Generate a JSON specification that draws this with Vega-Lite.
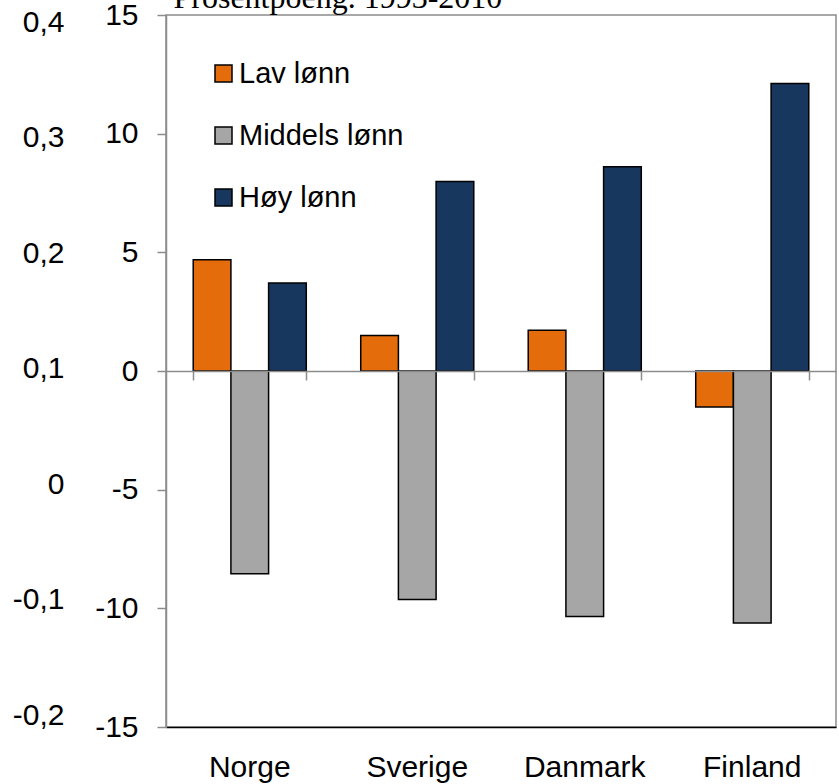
{
  "$schema": "https://vega.github.io/schema/vega-lite/v6.json",
  "autosize": {"type": "none"},
  "padding": {"left": 166, "top": 15, "right": 3, "bottom": 57},
  "width": 670,
  "height": 712,
  "background": "white",
  "config": {
    "font": "Liberation Sans",
    "view": {"stroke": "#8c8c8c", "strokeWidth": 1.5},
    "axis": {"grid": false}
  },
  "data": {
    "values": [
      {"country": "Norge", "group": "Lav lønn", "value": 4.69},
      {"country": "Norge", "group": "Middels lønn", "value": -8.54},
      {"country": "Norge", "group": "Høy lønn", "value": 3.71},
      {"country": "Sverige", "group": "Lav lønn", "value": 1.5},
      {"country": "Sverige", "group": "Middels lønn", "value": -9.63},
      {"country": "Sverige", "group": "Høy lønn", "value": 7.98},
      {"country": "Danmark", "group": "Lav lønn", "value": 1.72},
      {"country": "Danmark", "group": "Middels lønn", "value": -10.34},
      {"country": "Danmark", "group": "Høy lønn", "value": 8.61},
      {"country": "Finland", "group": "Lav lønn", "value": -1.52},
      {"country": "Finland", "group": "Middels lønn", "value": -10.62},
      {"country": "Finland", "group": "Høy lønn", "value": 12.11}
    ]
  },
  "resolve": {"scale": {"y": "independent"}, "axis": {"x": "independent", "y": "independent"}},
  "layer": [
    {
      "mark": {"type": "bar", "stroke": "black", "strokeWidth": 1.5},
      "encoding": {
        "x": {
          "field": "country",
          "type": "nominal",
          "sort": ["Norge", "Sverige", "Danmark", "Finland"],
          "scale": {"paddingInner": 0.325, "paddingOuter": 0.1625},
          "axis": {
            "title": null,
            "orient": "bottom",
            "domain": true,
            "domainColor": "black",
            "domainWidth": 1.5,
            "ticks": false,
            "labelAngle": 0,
            "labelFontSize": 30,
            "labelColor": "black",
            "labelPadding": 25
          }
        },
        "xOffset": {
          "field": "group",
          "type": "nominal",
          "sort": ["Lav lønn", "Middels lønn", "Høy lønn"],
          "scale": {"paddingInner": 0, "paddingOuter": 0}
        },
        "y": {
          "field": "value",
          "type": "quantitative",
          "scale": {"domain": [-15, 15], "nice": false},
          "axis": {
            "title": null,
            "orient": "left",
            "values": [-15, -10, -5, 0, 5, 10, 15],
            "labelExpr": "'' + datum.value",
            "domainColor": "#8c8c8c",
            "domainWidth": 1.5,
            "tickColor": "#8c8c8c",
            "tickWidth": 1.5,
            "tickSize": 9,
            "labelFontSize": 30,
            "labelColor": "black",
            "labelPadding": 19
          }
        },
        "color": {
          "field": "group",
          "type": "nominal",
          "scale": {
            "domain": ["Lav lønn", "Middels lønn", "Høy lønn"],
            "range": ["#E46C0A", "#A6A6A6", "#17375E"]
          },
          "legend": {
            "title": null,
            "orient": "none",
            "legendX": 43,
            "legendY": 44,
            "padding": 0,
            "symbolType": "square",
            "symbolSize": 289,
            "symbolStrokeColor": "black",
            "symbolStrokeWidth": 1.5,
            "symbolOpacity": 1,
            "labelFontSize": 29,
            "labelLimit": 400,
            "labelColor": "black",
            "labelOffset": 1,
            "rowPadding": 32
          }
        }
      }
    },
    {
      "mark": {"type": "point", "opacity": 0},
      "encoding": {
        "x": {
          "field": "country",
          "type": "nominal",
          "sort": ["Norge", "Sverige", "Danmark", "Finland"],
          "axis": {
            "title": null,
            "orient": "bottom",
            "offset": -356,
            "domain": true,
            "domainColor": "#8c8c8c",
            "domainWidth": 1.5,
            "ticks": true,
            "tickBand": "extent",
            "tickColor": "#8c8c8c",
            "tickWidth": 1.5,
            "tickSize": 9,
            "labels": false,
            "zindex": 1
          }
        },
        "y": {
          "field": "value",
          "type": "quantitative",
          "scale": {"domain": [-15, 15], "nice": false, "range": [700, 7]},
          "axis": {
            "orient": "left",
            "values": [-15, -10, -5, 0, 5, 10, 15],
            "labelExpr": "datum.value == -5 ? '0' : (datum.value < -5 ? '-' : '') + replace(format(abs(datum.value + 5) / 50, '.1f'), '.', ',')",
            "domain": false,
            "ticks": false,
            "tickSize": 0,
            "labelFontSize": 30,
            "labelColor": "black",
            "labelPadding": 102,
            "title": "Prosentpoeng. 1993-2010",
            "titleAngle": 0,
            "titleAlign": "left",
            "titleBaseline": "alphabetic",
            "titleX": 7,
            "titleY": -8,
            "titleFont": "Liberation Serif",
            "titleFontSize": 32,
            "titleFontWeight": "normal",
            "titleColor": "black"
          }
        }
      }
    }
  ]
}
